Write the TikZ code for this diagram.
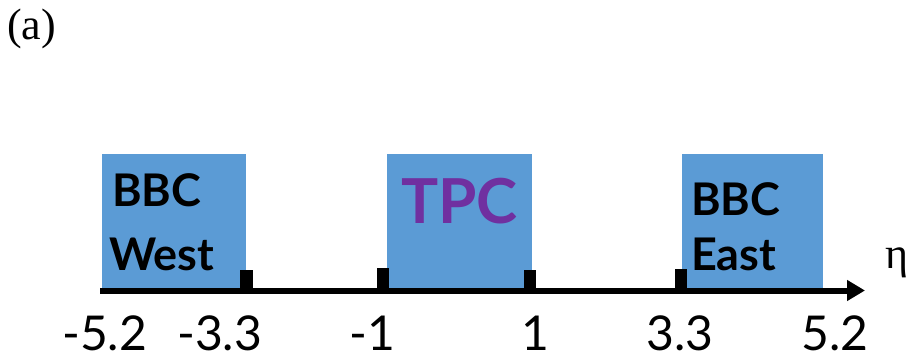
\documentclass[tikz,border=0pt]{standalone}
\usepackage{fontspec}
\setmainfont{Liberation Serif}
\newfontfamily\lblfont{Lato}
\usetikzlibrary{arrows.meta}
\definecolor{boxblue}{HTML}{5B9BD5}
\definecolor{tpcpurple}{HTML}{7030A0}
\tikzset{
  det/.style={fill=boxblue, draw=none, anchor=north west, inner sep=0pt},
  dettext/.style={anchor=base west, inner sep=0pt, font=\lblfont\bfseries\fontsize{45}{52}\selectfont},
  ticklbl/.style={anchor=base west, inner sep=0pt, text depth=0pt, font=\lblfont\fontsize{48}{56}\selectfont},
  tickmark/.style={fill=black},
  axis/.style={line width=6pt, -{Triangle[length=18pt,width=20pt]}}
}
\begin{document}
\begin{tikzpicture}[x=1pt,y=-1pt]
\useasboundingbox (0,0) rectangle (912,358);
\node[anchor=base west, inner sep=0pt, font=\fontsize{44}{52}\selectfont] (lab) at (7,40) {(a)};
% detector boxes
\node[det, minimum width=144pt, minimum height=134pt] (west) at (102,154) {};
\node[det, minimum width=145pt, minimum height=134pt] (tpc) at (387,154) {};
\node[det, minimum width=141pt, minimum height=134pt] (east) at (682,154) {};
% box texts
\node[dettext] (w1) at (112,207) {BBC};
\node[dettext] (w2) at (109,270) {West};
\node[anchor=base west, inner sep=0pt, font=\lblfont\bfseries\fontsize{62}{70}\selectfont, text=tpcpurple] (tpct) at (401,223) {TPC};
\node[dettext] (e1) at (691,215) {BBC};
\node[dettext] (e2) at (691,270) {East};
% axis
\coordinate (a0) at (100,290.5);
\coordinate (a1) at (865,290.5);
\draw[axis] (a0) -- (a1);
\node[anchor=base west, inner sep=0pt, font=\fontsize{44}{52}\selectfont] (eta) at (885,268) {η};
% tick marks
\fill[tickmark] (240,270) rectangle (253,290);
\fill[tickmark] (377,268) rectangle (389,290);
\fill[tickmark] (524,270) rectangle (536,290);
\fill[tickmark] (675,269) rectangle (687,290);
% tick labels
\node[ticklbl] (l1) at (62,350) {-5.2};
\node[ticklbl] (l2) at (177,350) {-3.3};
\node[ticklbl] (l3) at (349,350) {-1};
\node[ticklbl] (l4) at (521,350) {1};
\node[ticklbl] (l5) at (646,350) {3.3};
\node[ticklbl] (l6) at (801,350) {5.2};
\end{tikzpicture}
\end{document}
